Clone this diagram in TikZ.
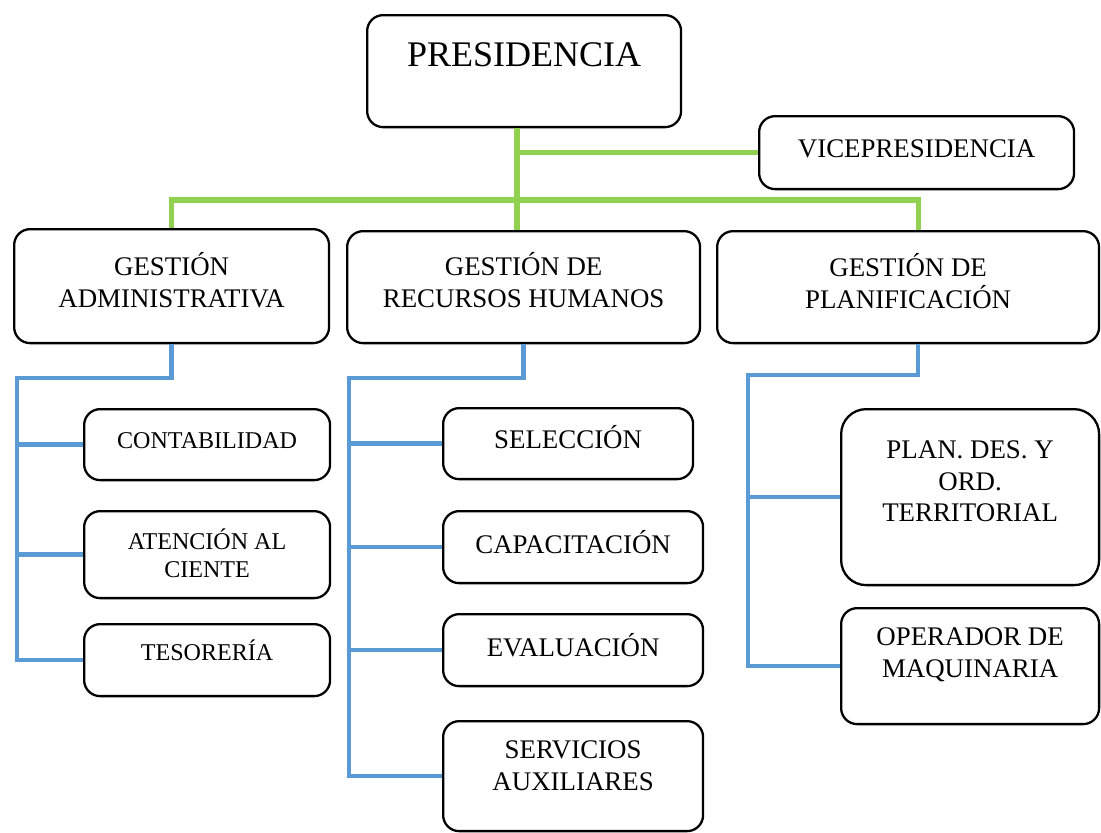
\documentclass[tikz,border=0pt]{standalone}
\usepackage{fontspec}
\setmainfont{Liberation Serif}
\usetikzlibrary{positioning}

\definecolor{verde}{HTML}{92D050}
\definecolor{azul}{HTML}{5B9BD5}

\tikzset{
  caja/.style={draw, line width=1.3pt, rounded corners=0.32cm, anchor=north west, inner sep=0pt},
  txt/.style={align=center, inner sep=0pt, font=\fontsize{15.3}{18}\selectfont, execute at begin node=\strut},
  txtchico/.style={txt, font=\fontsize{13.7}{16}\selectfont},
  lineaverde/.style={draw=verde, line width=2.9pt},
  lineaazul/.style={draw=azul, line width=2.5pt},
}

\begin{document}
\begin{tikzpicture}[x=0.02cm, y=-0.02cm]
\useasboundingbox (0,0) rectangle (1101,832);

% cajas
\node[caja, minimum width=6.28cm, minimum height=2.24cm] (pres) at (366,14) {};
\node[caja, minimum width=6.30cm, minimum height=1.46cm] (vice) at (758,115) {};
\node[caja, minimum width=6.30cm, minimum height=2.28cm] (adm) at (13,228) {};
\node[caja, minimum width=7.06cm, minimum height=2.24cm] (rrhh) at (346,230) {};
\node[caja, minimum width=7.64cm, minimum height=2.24cm] (plan) at (716,230) {};
\node[caja, minimum width=4.92cm, minimum height=1.42cm] (cont) at (83,408) {};
\node[caja, minimum width=4.92cm, minimum height=1.74cm] (aten) at (83,510) {};
\node[caja, minimum width=4.92cm, minimum height=1.44cm] (teso) at (83,623) {};
\node[caja, minimum width=5.00cm, minimum height=1.42cm] (sele) at (442,407) {};
\node[caja, minimum width=5.20cm, minimum height=1.44cm] (capa) at (442,510) {};
\node[caja, minimum width=5.20cm, minimum height=1.44cm] (eval) at (442,613) {};
\node[caja, minimum width=5.20cm, minimum height=2.20cm] (serv) at (442,720) {};
\node[caja, minimum width=5.16cm, minimum height=3.52cm, rounded corners=0.5cm] (pdot) at (840,408) {};
\node[caja, minimum width=5.16cm, minimum height=2.32cm] (oper) at (840,607) {};

% textos
\node[txt, font=\fontsize{20.5}{24.6}\selectfont, below=0.43cm of pres.north] (pres-t) {PRESIDENCIA};
\node[txt, below=0.41cm of vice.north] (vice-t) {VICEPRESIDENCIA};
\node[txt, below=0.49cm of adm.north] (adm-t) {GESTIÓN\\ADMINISTRATIVA};
\node[txt, below=0.45cm of rrhh.north] (rrhh-t) {GESTIÓN DE\\RECURSOS HUMANOS};
\node[txt, below=0.47cm of plan.north] (plan-t) {GESTIÓN DE\\PLANIFICACIÓN};
\node[txtchico, below=0.41cm of cont.north] (cont-t) {CONTABILIDAD};
\node[txtchico, below=0.37cm of aten.north] (aten-t) {ATENCIÓN AL\\CIENTE};
\node[txtchico, below=0.33cm of teso.north] (teso-t) {TESORERÍA};
\node[txt, below=0.37cm of sele.north] (sele-t) {SELECCIÓN};
\node[txt, below=0.41cm of capa.north] (capa-t) {CAPACITACIÓN};
\node[txt, below=0.41cm of eval.north] (eval-t) {EVALUACIÓN};
\node[txt, below=0.41cm of serv.north] (serv-t) {SERVICIOS\\AUXILIARES};
\node[txt, below=0.65cm of pdot.north] (pdot-t) {PLAN. DES. Y\\ORD.\\TERRITORIAL};
\node[txt, below=0.41cm of oper.north] (oper-t) {OPERADOR DE\\MAQUINARIA};

% lineas verdes
\coordinate (tronco) at (517,200);
\draw[lineaverde] (tronco |- pres.south) -- (tronco |- rrhh.north);
\draw[lineaverde] (tronco |- vice.west) -- (vice.west);
\draw[lineaverde] (adm.north) |- (tronco) -| ([xshift=0.2cm]plan.north);

% lineas azules
\coordinate (adm-c) at (17,378);
\coordinate (rrhh-c) at (349,378);
\coordinate (plan-c) at (748,375);
\draw[lineaazul] (adm.south) |- (adm-c) |- (teso.west);
\draw[lineaazul] (cont.west) -- (cont.west -| adm-c);
\draw[lineaazul] (aten.west) -- (aten.west -| adm-c);
\draw[lineaazul] (rrhh.south) |- (rrhh-c) |- (serv.west);
\draw[lineaazul] (sele.west) -- (sele.west -| rrhh-c);
\draw[lineaazul] (capa.west) -- (capa.west -| rrhh-c);
\draw[lineaazul] (eval.west) -- (eval.west -| rrhh-c);
\draw[lineaazul] ([xshift=0.2cm]plan.south) |- (plan-c) |- (oper.west);
\draw[lineaazul] (pdot.west) -- (pdot.west -| plan-c);
\end{tikzpicture}
\end{document}
